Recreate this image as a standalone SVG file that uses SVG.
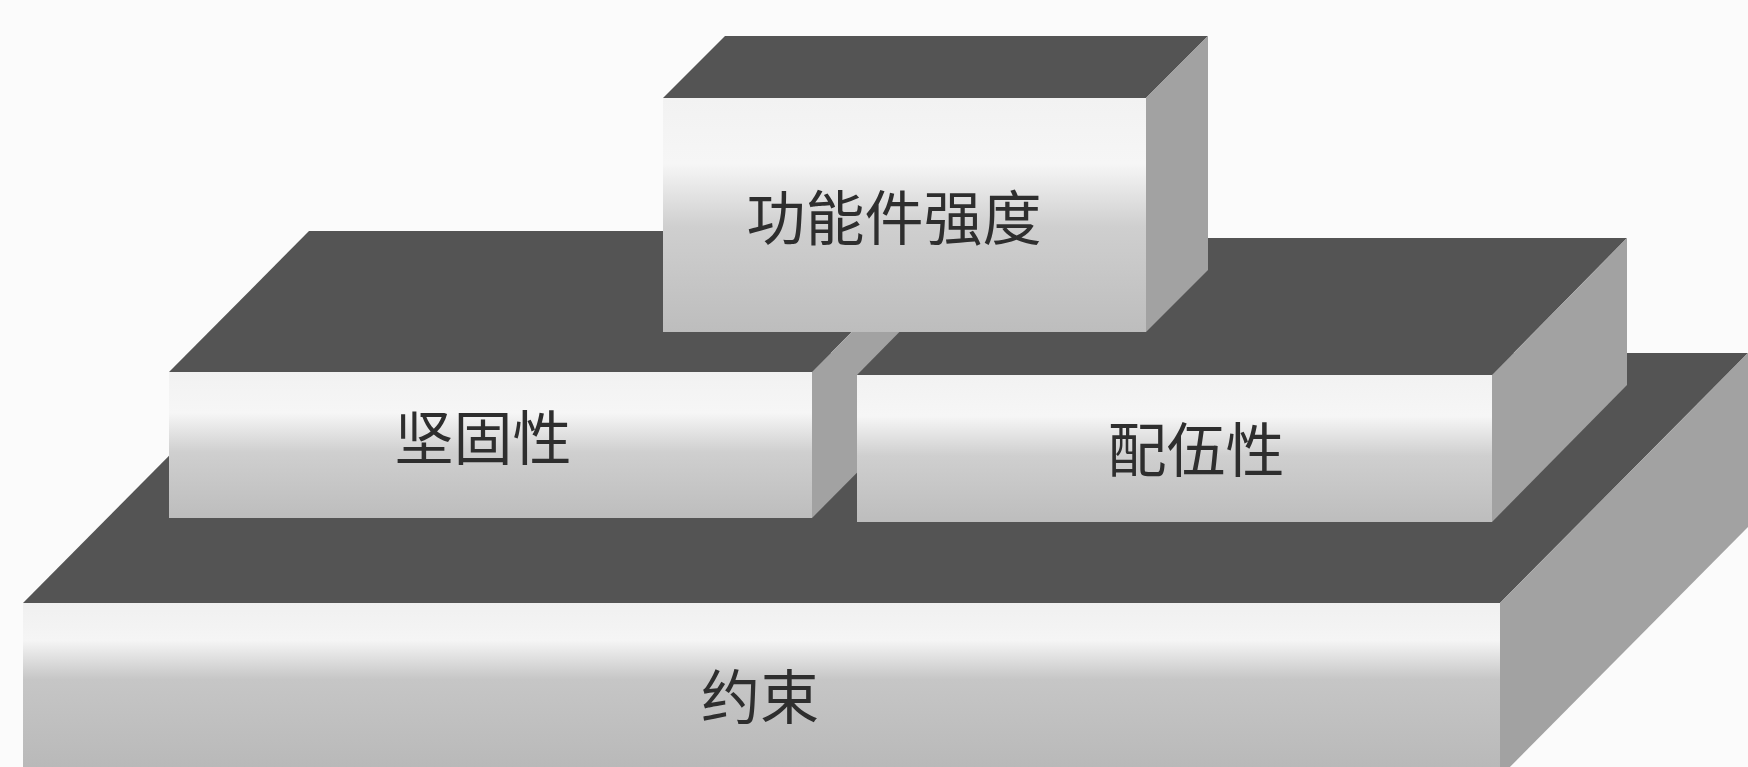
<svg xmlns="http://www.w3.org/2000/svg" width="1748" height="767" viewBox="0 0 1748 767">
  <defs>
    <linearGradient id="front" x1="0" y1="0" x2="0" y2="1">
      <stop offset="0" stop-color="#f2f2f2"/>
      <stop offset="0.28" stop-color="#f6f6f6"/>
      <stop offset="0.55" stop-color="#cfcfcf"/>
      <stop offset="1" stop-color="#bdbdbd"/>
    </linearGradient>
    <linearGradient id="frontBig" x1="0" y1="0" x2="0" y2="1">
      <stop offset="0" stop-color="#f0f0f0"/>
      <stop offset="0.22" stop-color="#f5f5f5"/>
      <stop offset="0.45" stop-color="#c6c6c6"/>
      <stop offset="1" stop-color="#b8b8b8"/>
    </linearGradient>
    <style>
      .top { fill: #545454; }
      .side { fill: #a2a2a2; }
      .front { fill: url(#front); }
      .frontBig { fill: url(#frontBig); }
      .label { font-family: "Noto Sans CJK SC", "Noto Sans", sans-serif; font-size: 59px; fill: #2e2e2e; text-anchor: middle; dominant-baseline: central; }
    </style>
  </defs>
  <rect x="0" y="0" width="1748" height="767" fill="#fbfbfb"/>

  <g id="node-constraint">
    <polygon class="top" points="23,603 1500,603 1748,353 271,353"/>
    <polygon class="side" points="1500,603 1748,353 1748,527 1500,777"/>
    <rect class="frontBig" x="23" y="603" width="1477" height="170"/>
    <text class="label" x="760" y="693">约束</text>
  </g>

  <g id="node-rigidity">
    <polygon class="top" points="169,372 812,372 952,231 309,231"/>
    <polygon class="side" points="812,372 952,231 952,377 812,518"/>
    <rect class="front" x="169" y="372" width="643" height="146"/>
    <text class="label" x="483" y="434">坚固性</text>
  </g>

  <g id="node-compat">
    <polygon class="top" points="857,375 1492,375 1627,238 992,238"/>
    <polygon class="side" points="1492,375 1627,238 1627,385 1492,522"/>
    <rect class="front" x="857" y="375" width="635" height="147"/>
    <text class="label" x="1196" y="446">配伍性</text>
  </g>

  <g id="node-strength">
    <polygon class="top" points="663,98 1146,98 1208,36 725,36"/>
    <polygon class="side" points="1146,98 1208,36 1208,270 1146,332"/>
    <rect class="front" x="663" y="98" width="483" height="234"/>
    <text class="label" x="894" y="214">功能件强度</text>
  </g>
</svg>
